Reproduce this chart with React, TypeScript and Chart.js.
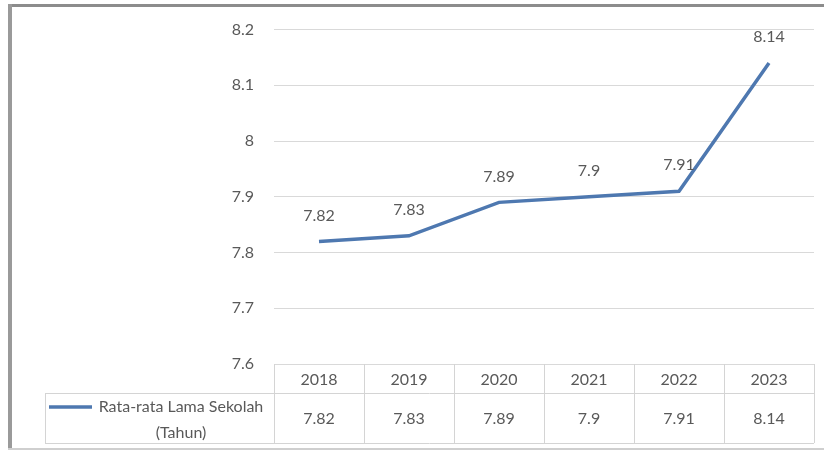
import React, { useEffect, useRef } from "react";
import { Chart, registerables } from "chart.js";

Chart.register(...registerables);

const years = ["2018", "2019", "2020", "2021", "2022", "2023"];
const values = [7.82, 7.83, 7.89, 7.9, 7.91, 8.14];
const seriesName = ["Rata-rata Lama Sekolah", "(Tahun)"];
const yMin = 7.6;
const yMax = 8.2;
const yStep = 0.1;

const FONT = "Lato, 'Open Sans', sans-serif";
const TEXT = "#595959";
const LINE = "#4e78b0";
const GRID = "#d9d9d9";
const TABLE = "#d4d4d4";

const fmt = (v: number) => String(parseFloat(v.toFixed(2)));

const labelsPlugin = {
  id: "valueLabels",
  afterDatasetsDraw(chart: any) {
    const ctx = chart.ctx;
    const meta = chart.getDatasetMeta(0);
    ctx.save();
    ctx.font = `16px ${FONT}`;
    ctx.fillStyle = TEXT;
    ctx.textAlign = "center";
    ctx.textBaseline = "middle";
    meta.data.forEach((pt: any, i: number) => {
      ctx.fillText(fmt(values[i]), pt.x, pt.y - 26);
    });
    ctx.restore();
  },
};

const tablePlugin = {
  id: "dataTable",
  afterDraw(chart: any) {
    const ctx = chart.ctx;
    const x = chart.scales.x;
    const area = chart.chartArea;
    const colW = x.getPixelForValue(1) - x.getPixelForValue(0);
    const top = area.bottom;
    const mid = top + 29;
    const bottom = top + 79;
    const legendLeft = 45;
    ctx.save();
    ctx.strokeStyle = TABLE;
    ctx.lineWidth = 1;
    const hl = (y: number, x0: number, x1: number) => {
      ctx.beginPath();
      ctx.moveTo(x0, Math.round(y) + 0.5);
      ctx.lineTo(x1, Math.round(y) + 0.5);
      ctx.stroke();
    };
    const vl = (xx: number, y0: number, y1: number) => {
      ctx.beginPath();
      ctx.moveTo(Math.round(xx) + 0.5, y0);
      ctx.lineTo(Math.round(xx) + 0.5, y1);
      ctx.stroke();
    };
    hl(mid, legendLeft, area.right);
    hl(bottom, legendLeft, area.right);
    vl(legendLeft, mid, bottom);
    for (let i = 0; i <= years.length; i++) {
      const bx = x.getPixelForValue(0) - colW / 2 + i * colW;
      vl(bx, top, bottom);
    }
    ctx.font = `16px ${FONT}`;
    ctx.fillStyle = TEXT;
    ctx.textAlign = "center";
    ctx.textBaseline = "middle";
    years.forEach((yr, i) => {
      const cx = x.getPixelForValue(i);
      ctx.fillText(yr, cx, (top + mid) / 2 + 1);
      ctx.fillText(fmt(values[i]), cx, (mid + bottom) / 2 + 1);
    });
    // legend key
    ctx.strokeStyle = LINE;
    ctx.lineWidth = 3.5;
    ctx.beginPath();
    ctx.moveTo(49, mid + 14);
    ctx.lineTo(92, mid + 14);
    ctx.stroke();
    ctx.font = `16px ${FONT}`;
    ctx.textAlign = "center";
    const tx = 181;
    ctx.fillText(seriesName[0], tx, mid + 14);
    ctx.fillText(seriesName[1], tx, mid + 40);
    ctx.restore();
  },
};

export default function App() {
  const ref = useRef<HTMLCanvasElement | null>(null);
  useEffect(() => {
    if (!ref.current) return;
    const chart = new Chart(ref.current, {
      type: "line",
      data: {
        labels: years,
        datasets: [
          {
            label: seriesName.join(" "),
            data: values,
            borderColor: LINE,
            backgroundColor: LINE,
            borderWidth: 3.5,
            pointRadius: 0,
            tension: 0,
          },
        ],
      },
      options: {
        responsive: false,
        animation: false,
        layout: { padding: { top: 28, right: 10, bottom: 88, left: 0 } },
        plugins: { legend: { display: false }, tooltip: { enabled: false } },
        scales: {
          x: { display: false, offset: true },
          y: {
            min: yMin,
            max: yMax,
            border: { display: false },
            grid: { color: GRID, drawTicks: false, lineWidth: 1 },
            ticks: {
              stepSize: yStep,
              padding: 20,
              color: TEXT,
              font: { family: FONT, size: 16 },
              callback: (v: any) => fmt(Number(v)),
            },
            afterFit: (s: any) => {
              s.width = 274;
            },
          },
        },
      },
      plugins: [labelsPlugin, tablePlugin],
    });
    return () => chart.destroy();
  }, []);
  return (
    <div style={{ position: "fixed", left: 0, top: 0, width: 824, height: 452, background: "#fff" }}>
      <canvas ref={ref} width={824} height={452} style={{ position: "absolute", left: 0, top: 0 }} />
      <div style={{ position: "absolute", left: 8, top: 4, width: 830, height: 3, background: "#8c8c8c" }} />
      <div style={{ position: "absolute", left: 8, top: 4, width: 4, height: 446, background: "#9a9a9a" }} />
      <div style={{ position: "absolute", left: 8, top: 448, width: 830, height: 2, background: "#cfcfcf" }} />
    </div>
  );
}
